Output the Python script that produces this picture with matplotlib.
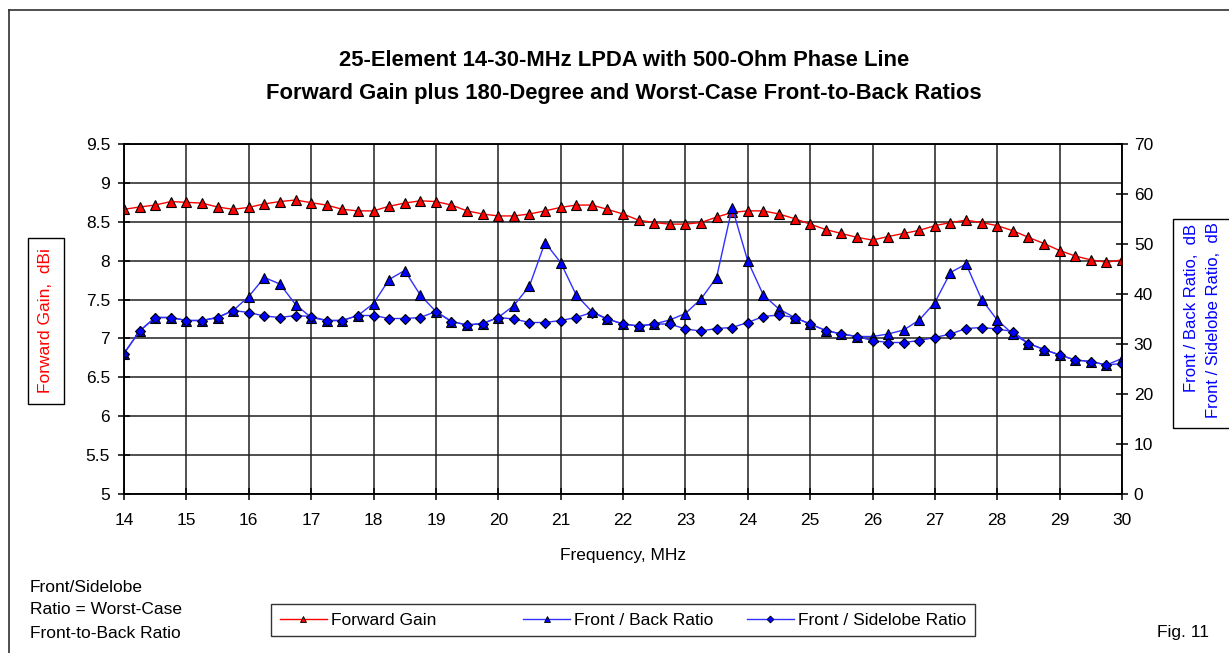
import numpy as np
import matplotlib
matplotlib.use("Agg")
import matplotlib.pyplot as plt
from matplotlib.lines import Line2D

plt.rcParams['font.family'] = ['Liberation Sans', 'DejaVu Sans']

freq = np.arange(14, 30.01, 0.25)

gain = [8.66, 8.69, 8.715, 8.76, 8.75, 8.74, 8.69, 8.66, 8.685, 8.73, 8.76, 8.78, 8.745,
        8.715, 8.66, 8.64, 8.64, 8.70, 8.74, 8.77, 8.76, 8.715, 8.64, 8.60, 8.575, 8.575,
        8.60, 8.64, 8.685, 8.715, 8.715, 8.66, 8.60, 8.52, 8.49, 8.47, 8.47, 8.49, 8.56,
        8.62, 8.64, 8.64, 8.60, 8.54, 8.47, 8.40, 8.35, 8.30, 8.265, 8.31, 8.35, 8.39,
        8.45, 8.49, 8.52, 8.49, 8.45, 8.385, 8.30, 8.22, 8.13, 8.06, 8.01, 7.98, 8.01]

front_back = [28.1, 32.6, 35.3, 35.3, 34.7, 34.7, 35.3, 36.7, 39.5, 43.3, 42.0, 37.9, 35.3,
              34.7, 34.7, 35.7, 38.1, 42.9, 44.7, 39.8, 36.5, 34.5, 33.8, 34.1, 35.3, 37.7,
              41.6, 50.3, 46.3, 39.8, 36.5, 35.0, 34.0, 33.6, 34.0, 34.8, 36.1, 39.0, 43.3,
              57.3, 46.6, 39.8, 37.0, 35.3, 34.0, 32.7, 32.0, 31.5, 31.5, 32.0, 32.8, 34.8,
              38.3, 44.3, 46.0, 38.9, 34.8, 32.0, 30.1, 28.9, 27.8, 26.8, 26.5, 25.8, 27.1]

front_side = [28.1, 32.6, 35.3, 35.3, 34.7, 34.7, 35.3, 36.7, 36.3, 35.6, 35.3, 35.7, 35.5,
              34.7, 34.7, 35.7, 35.7, 35.1, 35.1, 35.3, 36.5, 34.5, 33.8, 34.1, 35.3, 35.0,
              34.3, 34.3, 34.7, 35.3, 36.3, 35.0, 34.0, 33.6, 34.0, 34.0, 33.0, 32.6, 33.1,
              33.3, 34.3, 35.5, 35.8, 35.3, 34.0, 32.7, 32.0, 31.5, 30.7, 30.3, 30.3, 30.7,
              31.3, 32.0, 33.1, 33.3, 33.0, 32.5, 30.1, 28.9, 27.8, 26.8, 26.5, 25.8, 26.1]

W, H = 1229, 653
fig = plt.figure(figsize=(W / 100, H / 100), dpi=100)
ax = fig.add_axes([124 / W, 1 - 494 / H, (1122 - 124) / W, (494 - 144) / H])
ax2 = ax.twinx()

# forward gain on left axis
ax.plot(freq, gain, color='#ff0000', lw=1.0, marker='^', markersize=7.5,
        markerfacecolor='#ff0000', markeredgecolor='black', markeredgewidth=0.8, zorder=3)

# ratios on right axis
ax2.plot(freq, front_back, color='#3030ff', lw=1.0, marker='^', markersize=7.5,
         markerfacecolor='#0000ff', markeredgecolor='black', markeredgewidth=0.8)
ax2.plot(freq, front_side, color='#3030ff', lw=1.0, marker='D', markersize=5.2,
         markerfacecolor='#0000ff', markeredgecolor='black', markeredgewidth=0.8)

ax.set_xlim(14, 30)
ax.set_ylim(5, 9.5)
ax2.set_ylim(0, 70)
ax.set_xticks(np.arange(14, 31, 1))
ax.set_yticks(np.arange(5, 9.51, 0.5))
ax.set_yticklabels(['5', '5.5', '6', '6.5', '7', '7.5', '8', '8.5', '9', '9.5'])
ax2.set_yticks(np.arange(0, 71, 10))

ax.grid(True, color='#202020', lw=1.1)
ax.set_axisbelow(True)
for a in (ax, ax2):
    for s in a.spines.values():
        s.set_color('black')
        s.set_linewidth(1.1)

ax.tick_params(axis='both', direction='inout', length=8, width=1.1, labelsize=12.5, colors='black')
ax.tick_params(axis='x', pad=10)
ax.tick_params(axis='y', pad=6)
ax2.tick_params(axis='y', direction='inout', length=8, width=1.1, labelsize=12.5, pad=4.5)

ax.set_xlabel('Frequency, MHz', fontsize=12.5, labelpad=14)

# title
fig.text(624 / W, 1 - 61 / H, '25-Element 14-30-MHz LPDA with 500-Ohm Phase Line',
         ha='center', va='center', fontsize=15.8, fontweight='bold')
fig.text(624 / W, 1 - 93 / H, 'Forward Gain plus 180-Degree and Worst-Case Front-to-Back Ratios',
         ha='center', va='center', fontsize=15.8, fontweight='bold')

# left axis title in a box
fig.text(46 / W, 1 - 321 / H, 'Forward Gain,  dBi', rotation=90, color='#ff0000',
         ha='center', va='center', fontsize=12.5,
         bbox=dict(boxstyle='square,pad=0.6', fc='white', ec='black', lw=1.0))

# right axis titles in a box
fig.patches.append(plt.Rectangle((1173 / W, 1 - 428 / H), 70 / W, 209 / H,
                                 transform=fig.transFigure, fill=False, ec='black', lw=1.0))
fig.text(1192 / W, 1 - 224 / H, 'Front / Back Ratio,  dB', rotation=90, color='#0000ff',
         ha='center', va='top', fontsize=12)
fig.text(1214 / W, 1 - 222 / H, 'Front / Sidelobe Ratio,  dB', rotation=90, color='#0000ff',
         ha='center', va='top', fontsize=12)

# note and figure number
fig.text(30 / W, 1 - 587 / H, 'Front/Sidelobe', ha='left', va='center', fontsize=12.5)
fig.text(30 / W, 1 - 610 / H, 'Ratio = Worst-Case', ha='left', va='center', fontsize=12.5)
fig.text(30 / W, 1 - 633 / H, 'Front-to-Back Ratio', ha='left', va='center', fontsize=12.5)
fig.text(1157 / W, 1 - 633 / H, 'Fig. 11', ha='left', va='center', fontsize=12.5)

# legend
handles = [
    Line2D([], [], color='#ff0000', lw=1.0, marker='^', markersize=5,
           markerfacecolor='#ff0000', markeredgecolor='black', markeredgewidth=0.6),
    Line2D([], [], color='#3030ff', lw=1.0, marker='^', markersize=5,
           markerfacecolor='#0000ff', markeredgecolor='black', markeredgewidth=0.6),
    Line2D([], [], color='#3030ff', lw=1.0, marker='D', markersize=3.5,
           markerfacecolor='#0000ff', markeredgecolor='black', markeredgewidth=0.6),
]
labels = ['Forward Gain' + ' ' * 11, 'Front / Back Ratio', 'Front / Sidelobe Ratio']
leg = fig.legend(handles, labels, loc='center', bbox_to_anchor=(623 / W, 1 - 620 / H),
                 ncol=3, fontsize=12.5, frameon=True, fancybox=False, handlelength=2.7,
                 handletextpad=0.25, columnspacing=1.9, borderpad=0.5)
leg.get_frame().set_edgecolor('black')
leg.get_frame().set_linewidth(1.0)

# outer chart frame
fig.add_artist(Line2D([9 / W, 9 / W], [0, 1 - 10 / H], transform=fig.transFigure,
                      color='#303030', lw=1.2))
fig.add_artist(Line2D([9 / W, 1], [1 - 10 / H, 1 - 10 / H], transform=fig.transFigure,
                      color='#303030', lw=1.2))

fig.savefig('out.png', dpi=100)
